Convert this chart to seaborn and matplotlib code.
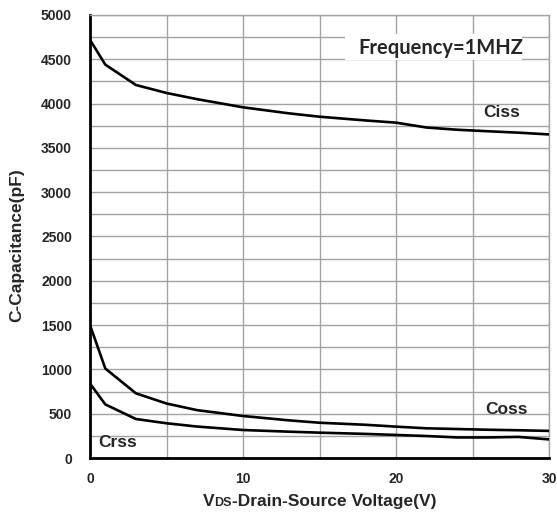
import matplotlib
matplotlib.use("Agg")
import matplotlib.pyplot as plt
import seaborn as sns
import pandas as pd
from matplotlib.ticker import FixedLocator, MultipleLocator
from matplotlib.patches import Rectangle

# ---- data ----
vds = [0, 1, 3, 5, 7, 10, 13, 15, 18, 20, 22, 24, 26, 28, 30]
ciss = [4720, 4440, 4210, 4120, 4050, 3958, 3890, 3852, 3810, 3785, 3730, 3705, 3688, 3672, 3652]
coss = [1500, 1010, 730, 615, 540, 474, 425, 398, 375, 354, 335, 327, 319, 313, 306]
crss = [840, 605, 440, 392, 355, 316, 297, 286, 272, 260, 248, 232, 232, 238, 210]
series_names = ["Ciss", "Coss", "Crss"]
x_ticks = [0, 10, 20, 30]
y_ticks = list(range(0, 5001, 500))
annotation = "Frequency=1MHZ"

df = pd.DataFrame({"VDS": vds * 3,
                   "C": ciss + coss + crss,
                   "series": sum([[n] * len(vds) for n in series_names], [])})

sns.set_style("white")
NARROW = ["Liberation Sans Narrow", "Liberation Sans", "DejaVu Sans"]
REG = ["Liberation Sans", "DejaVu Sans"]

fig = plt.figure(figsize=(5.57, 5.13), dpi=100)
ax = fig.add_axes([90 / 557, 55 / 513, 459 / 557, 443 / 513])

sns.lineplot(data=df, x="VDS", y="C", hue="series",
             palette={n: "black" for n in series_names},
             linewidth=1.9, legend=False, ax=ax, estimator=None, sort=False, zorder=3)

ax.set_xlim(0, 30)
ax.set_ylim(0, 5000)
ax.xaxis.set_major_locator(FixedLocator(x_ticks))
ax.xaxis.set_minor_locator(MultipleLocator(5))
ax.yaxis.set_major_locator(FixedLocator(y_ticks))
ax.yaxis.set_minor_locator(MultipleLocator(250))
ax.set_axisbelow(True)
ax.grid(which="both", color="#a3a3a3", linewidth=1.0)
ax.tick_params(which="both", length=0)
ax.tick_params(axis="y", pad=13)
ax.tick_params(axis="x", pad=10)
for lab in ax.get_xticklabels() + ax.get_yticklabels():
    lab.set_family(REG)
    lab.set_fontweight("bold")
    lab.set_fontsize(10)
ax.set_xlabel("")
ax.set_ylabel("")

for side in ["left", "bottom"]:
    ax.spines[side].set_color("black")
    ax.spines[side].set_linewidth(2.0)
for side in ["top", "right"]:
    ax.spines[side].set_color("#a3a3a3")
    ax.spines[side].set_linewidth(1.0)

LBL = 12.5
# series labels
ax.text(26.9, 3894, "Ciss", family=NARROW, fontweight="bold", fontsize=LBL,
        ha="center", va="center", zorder=4)
ax.text(27.25, 553, "Coss", family=NARROW, fontweight="bold", fontsize=LBL,
        ha="center", va="center", zorder=4)
ax.text(1.8, 180, "Crss", family=NARROW, fontweight="bold", fontsize=LBL,
        ha="center", va="center", zorder=4)

# frequency box
ax.add_patch(Rectangle((16.67, 4490), 11.55, 290, facecolor="white", edgecolor="none", zorder=1))
ax.text(22.9, 4627, annotation, family=["Lato", "DejaVu Sans"], fontweight="bold",
        fontsize=14.5, ha="center", va="center", zorder=4)

# y label
fig.text(17 / 557, (513 - 245) / 513, "C-Capacitance(pF)", family=NARROW, fontweight="bold",
         fontsize=12.5, rotation=90, ha="center", va="center")

# x label with small "DS"
base_y = 7 / 513
t1 = fig.text(0.3, base_y, "V", family=NARROW, fontweight="bold", fontsize=LBL, va="baseline")
t2 = fig.text(0.3, base_y, "DS", family=NARROW, fontweight="bold", fontsize=9, va="baseline")
t3 = fig.text(0.3, base_y, "-Drain-Source Voltage(V)", family=NARROW, fontweight="bold",
              fontsize=LBL, va="baseline")
fig.canvas.draw()
r = fig.canvas.get_renderer()
w1 = t1.get_window_extent(r).width
w2 = t2.get_window_extent(r).width
w3 = t3.get_window_extent(r).width
total = w1 + w2 + w3
center_px = 319.5
x0 = center_px - total / 2
t1.set_x(x0 / 557)
t2.set_x((x0 + w1) / 557)
t3.set_x((x0 + w1 + w2) / 557)

fig.savefig("out.png", dpi=100)
